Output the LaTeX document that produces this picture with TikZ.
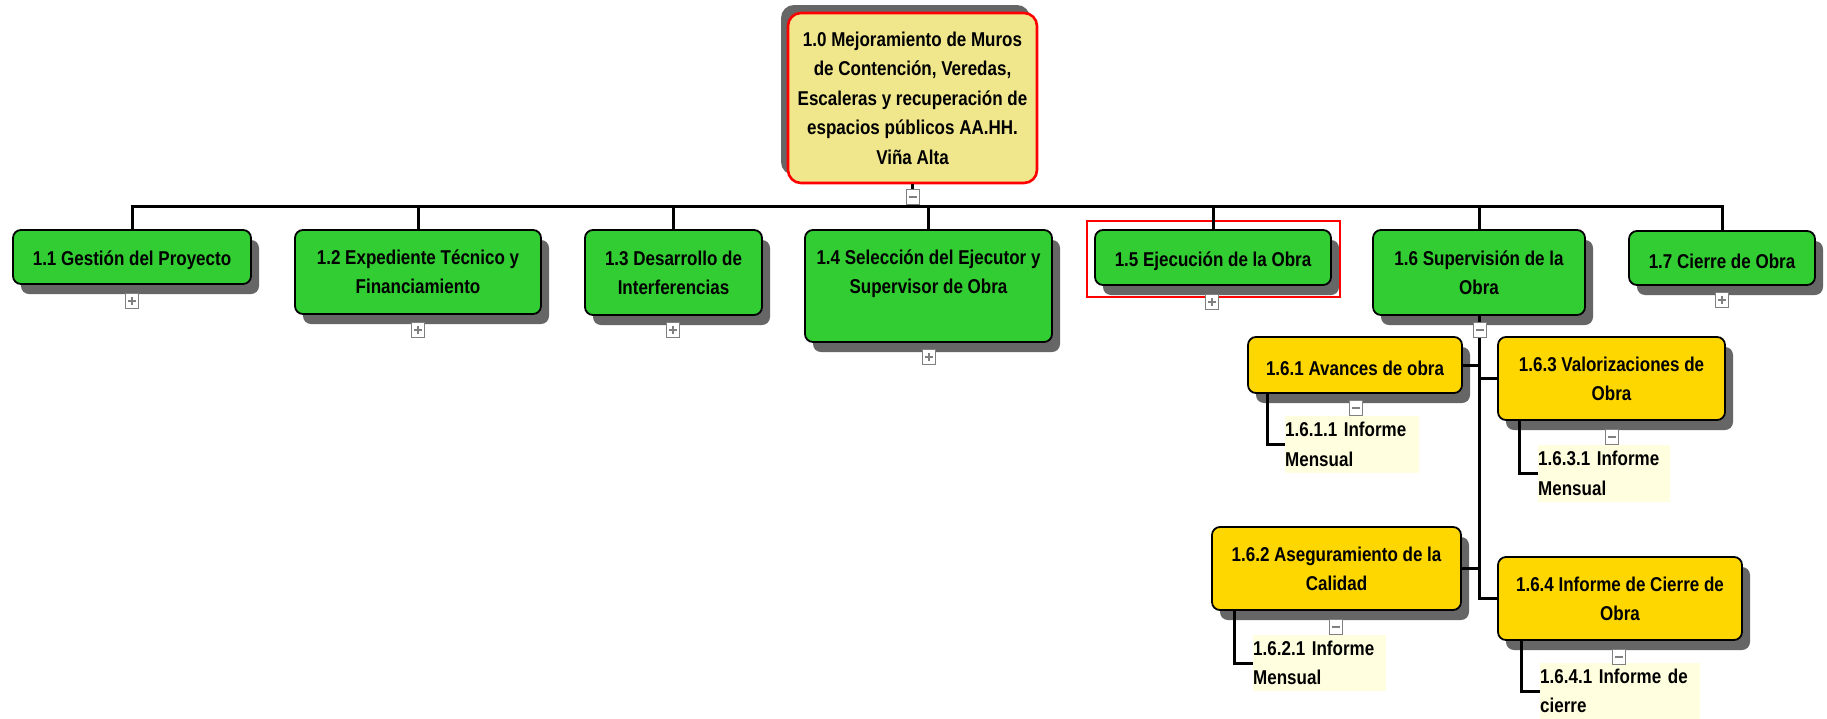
\documentclass[tikz,border=0pt]{standalone}
\usepackage{fontspec}
\setmainfont{Liberation Sans}[FakeStretch=0.85]
\usetikzlibrary{shadows,calc}
\definecolor{wbsgreen}{RGB}{50,205,50}
\definecolor{wbsgold}{RGB}{255,215,0}
\definecolor{rootfill}{RGB}{240,230,140}
\definecolor{leafbg}{RGB}{255,255,224}
\definecolor{shade}{RGB}{102,102,102}
\definecolor{pmgray}{RGB}{128,128,128}
\tikzset{
  wbsbase/.style={draw=black, line width=1.8pt, rounded corners=8pt, align=center, inner sep=0pt,
    font=\bfseries\fontsize{20}{29}\selectfont, text=black,
    execute at begin node={\rule{0pt}{22pt}}},
  shd/.style={drop shadow={shadow xshift=8pt, shadow yshift=-10pt, fill=shade, opacity=1}},
  lvone/.style={wbsbase, shd, fill=wbsgreen},
  lvtwo/.style={wbsbase, shd, fill=wbsgold},
  rootbox/.style={wbsbase, draw=red, line width=2.6pt, rounded corners=13pt, fill=rootfill,
    font=\bfseries\fontsize{20}{29.5}\selectfont,
    drop shadow={shadow xshift=-7pt, shadow yshift=8pt, fill=shade, opacity=1}},
  leaf/.style={fill=leafbg, align=left, inner sep=0pt, font=\bfseries\fontsize{20}{29.5}\selectfont, text=black},
  conn/.style={line width=3pt, draw=black},
  pm/.style={draw=pmgray, fill=white, line width=1pt, minimum width=13pt, minimum height=15pt, inner sep=0pt},
  pmplus/.style={pm, path picture={
      \draw[line width=1.7pt] ([xshift=-4pt]path picture bounding box.center) -- ([xshift=4pt]path picture bounding box.center);
      \draw[line width=1.7pt] ([yshift=-4pt]path picture bounding box.center) -- ([yshift=4pt]path picture bounding box.center);}},
  pmminus/.style={pm, path picture={
      \draw[line width=1.7pt] ([xshift=-4pt]path picture bounding box.center) -- ([xshift=4pt]path picture bounding box.center);}},
}
\begin{document}
\begin{tikzpicture}[x=1pt,y=-1pt]
\fill[white] (0,0) rectangle (1827,718);
\useasboundingbox (0,0) rectangle (1827,718);

% root
\node[rootbox, minimum width=249, minimum height=170] (root) at (912.5,98)
  {1.0 Mejoramiento de Muros\\de Contención, Veredas,\\Escaleras y recuperación de\\espacios públicos AA.HH.\\Viña Alta};

% level 1
\node[lvone, minimum width=238, minimum height=54] (b11) at (132,257) {1.1 Gestión del Proyecto};
\node[lvone, minimum width=246, minimum height=84] (b12) at (418,272) {1.2 Expediente Técnico y\\Financiamiento};
\node[lvone, minimum width=177, minimum height=85] (b13) at (673.5,272.5) {1.3 Desarrollo de\\Interferencias};
\node[lvone, minimum width=247, minimum height=112, execute at begin node={\rule{0pt}{29pt}}] (b14) at (928.5,286) {1.4 Selección del Ejecutor y\\Supervisor de Obra\\\mbox{}};
\node[lvone, minimum width=236, minimum height=55] (b15) at (1213,257.5) {1.5 Ejecución de la Obra};
\node[lvone, minimum width=212, minimum height=85] (b16) at (1479,272.5) {1.6 Supervisión de la\\Obra};
\node[lvone, minimum width=186, minimum height=54] (b17) at (1722,258) {1.7 Cierre de Obra};

% selection frame
\draw[red, line width=1.3pt] ($(b15.north west)+(-7,-8)$) rectangle ($(b15.south east)+(8,11)$);

% level 2
\node[lvtwo, minimum width=214, minimum height=56] (b161) at (1355,365) {1.6.1 Avances de obra};
\node[lvtwo, minimum width=227, minimum height=83] (b163) at (1611.5,378.5) {1.6.3 Valorizaciones de\\Obra};
\node[lvtwo, minimum width=249, minimum height=83] (b162) at (1336.5,568.5) {1.6.2 Aseguramiento de la\\Calidad};
\node[lvtwo, minimum width=244, minimum height=83] (b164) at (1620,598.5) {1.6.4 Informe de Cierre de\\Obra};

% leaves
\node[leaf, text width=134pt, minimum height=57, anchor=west] (l1611) at (1285,444.5) {1.6.1.1 Informe\\Mensual};
\node[leaf, text width=132pt, minimum height=57, anchor=west] (l1631) at (1538,473.5) {1.6.3.1 Informe\\Mensual};
\node[leaf, text width=133pt, minimum height=56, anchor=west] (l1621) at (1253,663) {1.6.2.1 Informe\\Mensual};
\node[leaf, text width=160pt, minimum height=56, anchor=west] (l1641) at (1540,691) {1.6.4.1 Informe de\\cierre};

% connectors level 1
\coordinate (bus) at (0,206);
\draw[conn] (root.south) -- (root.south |- bus);
\draw[conn] (b11.north) |- (b17.north |- bus) -- (b17.north);
\foreach \b in {b12,b13,b14,b15,b16} {\draw[conn] (\b.north) -- (\b.north |- bus);}

% connectors level 2
\draw[conn] (b16.south) -- (b16.south |- b164.west) -- (b164.west);
\draw[conn] (b161.east) -- (b161.east -| b16.south);
\draw[conn] (b163.west) -- (b163.west -| b16.south);
\draw[conn] (b162.east) -- (b162.east -| b16.south);

% connectors to leaves
\draw[conn] ([xshift=20pt]b161.south west) |- (l1611.west);
\draw[conn] ([xshift=22pt]b163.south west) |- (l1631.west);
\draw[conn] ([xshift=23pt]b162.south west) |- (l1621.west);
\draw[conn] ([xshift=24pt]b164.south west) |- (l1641.west);

% expand / collapse markers
\node[pmminus] (m10) at (913,197) {};
\node[pmplus] (p11) at (132,301) {};
\node[pmplus] (p12) at (418,330) {};
\node[pmplus] (p13) at (673,330) {};
\node[pmplus] (p14) at (929,357) {};
\node[pmplus] (p15) at (1212,302) {};
\node[pmminus] (m16) at (1480,330) {};
\node[pmplus] (p17) at (1722,300) {};
\node[pmminus] (m161) at (1356,408) {};
\node[pmminus] (m163) at (1612,437) {};
\node[pmminus] (m162) at (1336,627) {};
\node[pmminus] (m164) at (1619,657) {};
\end{tikzpicture}
\end{document}
